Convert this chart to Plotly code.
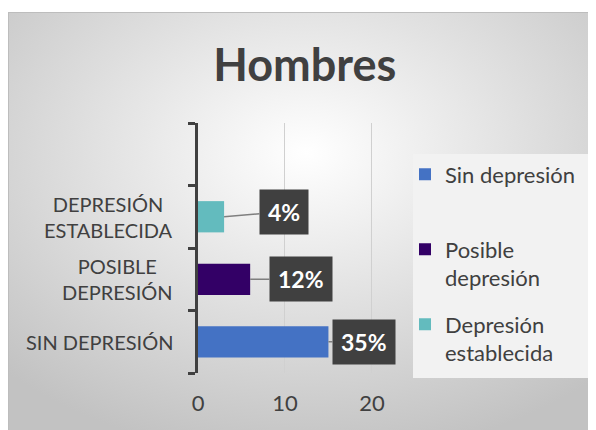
import base64
import plotly.graph_objects as go

# datos
categorias = ["SIN DEPRESIÓN", "POSIBLE<br>DEPRESIÓN", "DEPRESIÓN<br>ESTABLECIDA"]
series = ["Sin depresión", "Posible<br>depresión", "Depresión<br>establecida"]
valores = [15, 6, 3]
etiquetas = ["35%", "12%", "4%"]
colores = ["#4472C4", "#330066", "#63BBBE"]
orden_eje = categorias + [" "]

FUENTE = "Lato, 'Open Sans', sans-serif"
GRIS = "#404040"

# fondo degradado (como en Excel)
svg = ("<svg xmlns='http://www.w3.org/2000/svg' width='596' height='426' viewBox='0 0 596 426' "
       "preserveAspectRatio='none'><defs><radialGradient id='g' cx='50%' cy='33%' r='72%'>"
       "<stop offset='0' stop-color='#ffffff'/><stop offset='1' stop-color='#c2c2c2'/>"
       "</radialGradient></defs><rect width='596' height='426' fill='url(#g)'/>"
       "<rect x='0.5' y='0.5' width='620' height='440' fill='none' stroke='#bdbdbd'/></svg>")
fondo = "data:image/svg+xml;base64," + base64.b64encode(svg.encode()).decode()

# cada serie en su propia leyenda para repartirlas como en Excel
leyendas = ["legend", "legend2", "legend3"]
ley_y = [0.878, 0.578, 0.278]

fig = go.Figure()
for cat, serie, v, c, ley in zip(categorias, series, valores, colores, leyendas):
    fig.add_trace(go.Bar(x=[v], y=[cat], orientation="h", name=serie, legend=ley,
                         showlegend=True,
                         marker=dict(color=c, line=dict(width=0)), width=0.5))

# nombres de categorías centrados
for cat in categorias:
    fig.add_annotation(x=-0.115, xref="paper", xanchor="right", y=cat, yref="y",
                       text=cat, showarrow=False, align="center",
                       font=dict(family=FUENTE, size=20, color=GRIS))

# cajas de etiquetas
desplaz = [(36, 0), (51, 0), (60, -5)]
for cat, v, t, (ax, ay) in zip(categorias, valores, etiquetas, desplaz):
    fig.add_annotation(x=v, y=cat, text="<b>" + t + "</b>", showarrow=True, arrowhead=0,
                       arrowwidth=1.5, arrowcolor="#7f7f7f", ax=ax, ay=ay,
                       bgcolor=GRIS, borderpad=8, font=dict(family=FUENTE, size=23, color="white"))

fig.add_layout_image(source=fondo, xref="paper", yref="paper", x=-0.95, y=1.444,
                     sizex=2.98, sizey=1.704, sizing="stretch", layer="below",
                     xanchor="left", yanchor="top")
fig.add_shape(type="rect", xref="paper", yref="paper", x0=1.075, x1=2.03, y0=-0.02, y1=0.876,
              fillcolor="#f2f2f2", line=dict(width=0), layer="below")

ley_comun = dict(x=1.035, xanchor="left", yanchor="top", bgcolor="rgba(0,0,0,0)",
                 valign="top", font=dict(size=22, color=GRIS))

fig.update_layout(
    width=596, height=430,
    margin=dict(l=190, r=206, t=115, b=65, autoexpand=False),
    paper_bgcolor="white", plot_bgcolor="rgba(0,0,0,0)",
    barmode="overlay", showlegend=True,
    title=dict(text="<b>Hombres</b>", x=0.498, xanchor="center", y=0.867, yanchor="middle",
               yref="container", font=dict(family=FUENTE, size=45, color=GRIS)),
    font=dict(family=FUENTE, color=GRIS),
    legend=dict(y=ley_y[0], **ley_comun),
    legend2=dict(y=ley_y[1], **ley_comun),
    legend3=dict(y=ley_y[2], **ley_comun),
    xaxis=dict(range=[0, 23], tickvals=[0, 10, 20], showgrid=True, gridcolor="#d0d0d0",
               gridwidth=1, zeroline=False, showline=False, ticks="outside",
               tickcolor="rgba(0,0,0,0)", ticklen=11, automargin=False,
               tickfont=dict(size=22, color=GRIS)),
    yaxis=dict(type="category", categoryorder="array", categoryarray=orden_eje,
               range=[-0.5, 3.5], tickson="boundaries", ticks="outside", ticklen=7,
               tickwidth=3, tickcolor=GRIS, showline=True, linecolor=GRIS, linewidth=3,
               showgrid=False, showticklabels=False, automargin=False),
)

fig.write_html("out.html")
